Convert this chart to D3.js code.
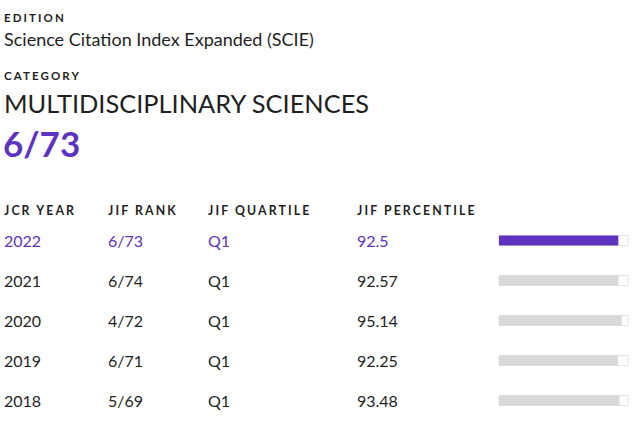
<!DOCTYPE html>
<html><head><meta charset="utf-8">
<script src="https://cdn.jsdelivr.net/npm/d3@7"></script>
<style>body{margin:0;background:#fff;} svg{display:block;}</style>
</head><body>
<script>
const edition = "Science Citation Index Expanded (SCIE)";
const category = "MULTIDISCIPLINARY SCIENCES";
const currentRank = "6/73";
const headers = ["JCR YEAR", "JIF RANK", "JIF QUARTILE", "JIF PERCENTILE"];
const years = ["2022", "2021", "2020", "2019", "2018"];
const ranks = ["6/73", "6/74", "4/72", "6/71", "5/69"];
const quartiles = ["Q1", "Q1", "Q1", "Q1", "Q1"];
const percentiles = [92.5, 92.57, 95.14, 92.25, 93.48];

const W = 640, H = 429;
const purple = "#5e33bf", ink = "#1f1f1f";
const FF = "Lato, 'Noto Sans', sans-serif";
const svg = d3.select("body").append("svg").attr("width", W).attr("height", H);

const lab = (t, x, y) => svg.append("text").attr("x", x).attr("y", y).text(t)
  .attr("font-family", FF).attr("font-size", 11.5).attr("font-weight", 700)
  .attr("letter-spacing", 2.1).attr("fill", ink);

lab("EDITION", 4, 22);
svg.append("text").attr("x", 4).attr("y", 46).text(edition)
  .attr("font-family", FF).attr("font-size", 18).attr("fill", ink);
lab("CATEGORY", 4, 80);
svg.append("text").attr("x", 4).attr("y", 113).text(category)
  .attr("font-family", FF).attr("font-size", 25.4).attr("fill", ink);
svg.append("text").attr("x", 3).attr("y", 157).text(currentRank)
  .attr("font-family", FF).attr("font-size", 35).attr("font-weight", 700).attr("fill", purple);

const colX = [4, 108, 208, 357];
headers.forEach((h, i) => lab(h, colX[i], 215).attr("font-size", 12.3));

const y = d3.scaleBand().domain(years).range([226, 426]).paddingInner(0);
const x = d3.scaleLinear().domain([0, 100]).range([499, 628]);

const rows = svg.selectAll("g.row").data(years).join("g").attr("class", "row")
  .attr("transform", d => `translate(0,${y(d)})`);
const cols = [years, ranks, quartiles, percentiles.map(String)];
rows.each(function(d, i) {
  const g = d3.select(this);
  const c = i === 0 ? purple : ink;
  cols.forEach((arr, j) => {
    g.append("text").attr("x", colX[j]).attr("y", 20.5).text(arr[i])
      .attr("font-family", FF).attr("font-size", 16).attr("fill", c);
  });
  g.append("rect").attr("x", x(0)).attr("y", 9.5).attr("width", x(100) - x(0)).attr("height", 10)
    .attr("fill", "#fff").attr("stroke", "#e2e2e2").attr("stroke-width", 1);
  g.append("rect").attr("x", x(0)).attr("y", 9.5).attr("width", x(percentiles[i]) - x(0)).attr("height", 10)
    .attr("fill", i === 0 ? purple : "#d9d9d9");
});
</script>
</body></html>
